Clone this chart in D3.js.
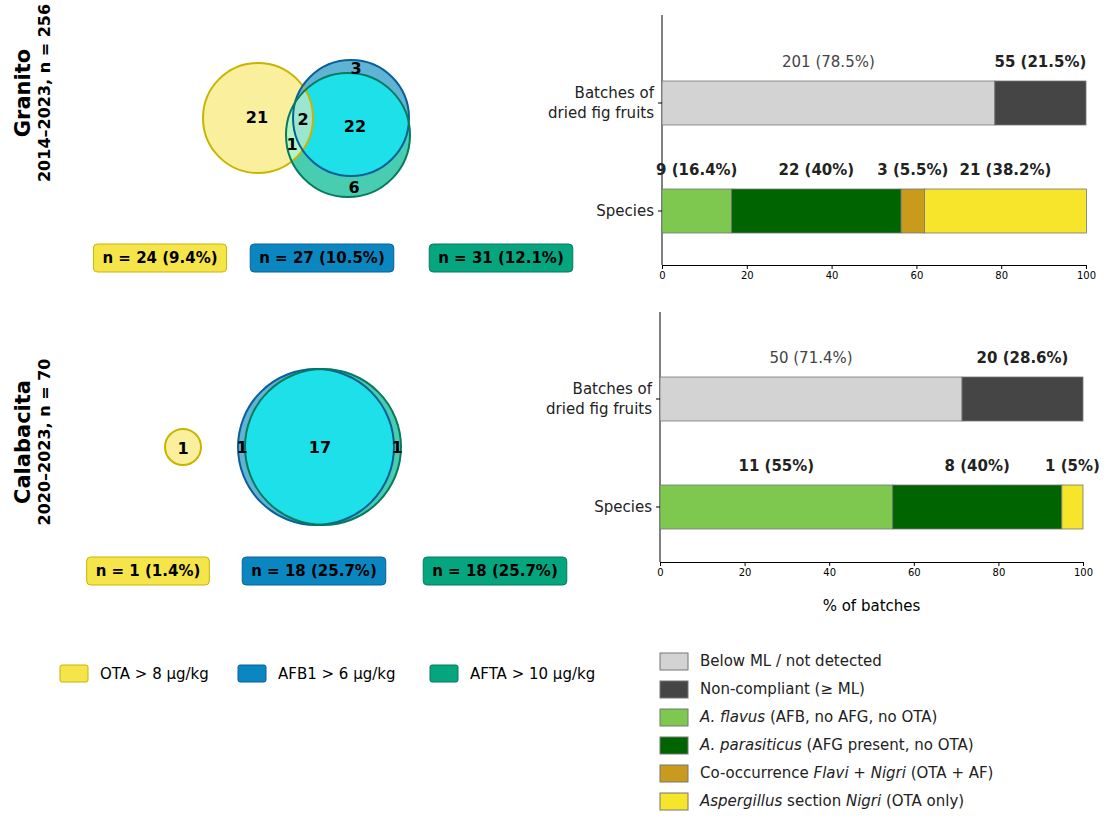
<!DOCTYPE html>
<html><head><meta charset="UTF-8">
<script src="https://d3js.org/d3.v7.min.js"></script>
<style>body{margin:0;background:#fff}text{font-family:"DejaVu Sans",sans-serif}</style>
</head><body>
<svg id="c" width="1108" height="826"></svg>
<script>
// panel data
var panels = ["Granito", "Calabacita"];
var panelSub = ["2014–2023,  n = 256", "2020–2023,  n = 70"];
var batchVals = [[78.5, 21.5], [71.4, 28.6]];
var batchLabels = [["201 (78.5%)", "55 (21.5%)"], ["50 (71.4%)", "20 (28.6%)"]];
var speciesVals = [[16.4, 40, 5.5, 38.2], [55, 40, 0, 5]];
var speciesLabels = [["9 (16.4%)", "22 (40%)", "3 (5.5%)", "21 (38.2%)"], ["11 (55%)", "8 (40%)", "", "1 (5%)"]];
var rowNames = ["Batches of\ndried fig fruits", "Species"];
var xTicks = [0, 20, 40, 60, 80, 100];
var batchColors = ["#d3d3d3", "#454545"];
var speciesColors = ["#7ec850", "#006400", "#c89b1c", "#f6e52a"];
var vennCounts = [
  [{t:"21",x:257,y:117},{t:"2",x:303,y:119},{t:"1",x:292,y:144},{t:"22",x:355,y:126},{t:"3",x:356,y:68},{t:"6",x:354,y:187}],
  [{t:"1",x:183,y:448},{t:"1",x:242,y:447},{t:"17",x:320,y:447},{t:"1",x:397,y:447}]
];
var setBoxes = [["n = 24 (9.4%)", "n = 27 (10.5%)", "n = 31 (12.1%)"], ["n = 1 (1.4%)", "n = 18 (25.7%)", "n = 18 (25.7%)"]];
var setColors = ["#f6e54a", "#0a86c0", "#05a57f"];
var setStroke = ["#c9b400", "#0a5f99", "#067a5c"];
var vennLegend = ["OTA > 8 µg/kg", "AFB1 > 6 µg/kg", "AFTA > 10 µg/kg"];
var barLegend = [["Below ML / not detected"], ["Non-compliant (≥ ML)"], ["A. flavus", " (AFB, no AFG, no OTA)"], ["A. parasiticus", " (AFG present, no OTA)"], ["Co-occurrence ", "Flavi", " + ", "Nigri", " (OTA + AF)"], ["Aspergillus", " section ", "Nigri", " (OTA only)"]];
var barLegendItalic = [[false], [false], [true, false], [true, false], [false, true, false, true, false], [true, false, true, false]];

// circle geometry for each panel [yellow, blue, green]
var circles = [
  [{cx:258,cy:118,r:55},{cx:351,cy:118,r:58},{cx:348,cy:135,r:62}],
  [{cx:183,cy:447,r:18},{cx:316,cy:447,r:78},{cx:323,cy:447,r:78}]
];

var svg = d3.select("#c");
var defs = svg.append("defs");

circles.forEach(function (cs, p) {
  var g = svg.append("g");
  cs.forEach(function (c, i) {
    defs.append("clipPath").attr("id", "cp" + p + i).append("circle").attr("cx", c.cx).attr("cy", c.cy).attr("r", c.r);
  });
  var fills = ["#f9ef9c", "#5fb4d6", "#48cdb0"];
  cs.forEach(function (c, i) {
    g.append("circle").attr("cx", c.cx).attr("cy", c.cy).attr("r", c.r).attr("fill", fills[i]);
  });
  // blue ∩ green
  g.append("g").attr("clip-path", "url(#cp" + p + "1)").append("circle")
    .attr("cx", cs[2].cx).attr("cy", cs[2].cy).attr("r", cs[2].r).attr("fill", "#1ee0e8");
  // yellow ∩ green
  g.append("g").attr("clip-path", "url(#cp" + p + "2)").append("circle")
    .attr("cx", cs[0].cx).attr("cy", cs[0].cy).attr("r", cs[0].r).attr("fill", "#b6f4c2");
  // yellow ∩ blue ∩ green
  g.append("g").attr("clip-path", "url(#cp" + p + "2)").append("g").attr("clip-path", "url(#cp" + p + "1)")
    .append("circle").attr("cx", cs[0].cx).attr("cy", cs[0].cy).attr("r", cs[0].r).attr("fill", "#9ae6cf");
  cs.forEach(function (c, i) {
    g.append("circle").attr("cx", c.cx).attr("cy", c.cy).attr("r", c.r).attr("fill", "none")
      .attr("stroke", setStroke[i]).attr("stroke-width", 2);
  });
  vennCounts[p].forEach(function (d) {
    g.append("text").attr("x", d.x).attr("y", d.y).attr("text-anchor", "middle").attr("dominant-baseline", "central")
      .attr("font-size", 16).attr("font-weight", "bold").text(d.t);
  });
  // set boxes
  var by = p === 0 ? 258 : 571;
  var bx = p === 0 ? [160, 322, 501] : [148, 314, 495];
  setBoxes[p].forEach(function (t, i) {
    var tx = g.append("text").attr("x", bx[i]).attr("y", by).attr("text-anchor", "middle").attr("dominant-baseline", "central")
      .attr("font-size", 15).attr("font-weight", "bold").text(t);
    var w = tx.node().getComputedTextLength() + 18;
    g.insert("rect", "text").attr("x", bx[i] - w / 2).attr("y", by - 14).attr("width", w).attr("height", 28).attr("rx", 4)
      .attr("fill", setColors[i]).attr("stroke", setStroke[i]);
  });
  // side title
  var ty = p === 0 ? 93 : 442;
  var tg = g.append("g").attr("transform", "translate(30," + ty + ") rotate(-90)");
  tg.append("text").attr("text-anchor", "middle").attr("font-size", 21).attr("font-weight", "bold").text(panels[p]);
  tg.append("text").attr("y", 20).attr("text-anchor", "middle").attr("font-size", 16).attr("font-weight", "bold").text(panelSub[p]);
});

// bar panels
var bp = [{x0:662, x1:1086, top:15, axis:265, rows:[103, 211]}, {x0:660, x1:1083, top:312, axis:562, rows:[399, 507]}];
bp.forEach(function (b, p) {
  var x = d3.scaleLinear().domain([0, 100]).range([b.x0, b.x1]);
  var g = svg.append("g");
  g.append("line").attr("x1", b.x0).attr("x2", b.x0).attr("y1", b.top).attr("y2", b.axis).attr("stroke", "#000");
  g.append("g").attr("transform", "translate(0," + b.axis + ")")
    .call(d3.axisBottom(x).tickValues(xTicks).tickSize(4).tickSizeOuter(0))
    .call(function (a) { a.selectAll("text").attr("font-size", 10).attr("font-family", "DejaVu Sans"); });
  var h = 44;
  [batchVals[p], speciesVals[p]].forEach(function (vals, r) {
    var cols = r === 0 ? batchColors : speciesColors;
    var labs = r === 0 ? batchLabels[p] : speciesLabels[p];
    var cy = b.rows[r], acc = 0;
    vals.forEach(function (v, i) {
      if (v > 0) {
        g.append("rect").attr("x", x(acc)).attr("y", cy - h / 2).attr("width", x(acc + v) - x(acc)).attr("height", h)
          .attr("fill", cols[i]).attr("stroke", "#777").attr("stroke-width", 0.8);
      }
      if (labs[i]) {
        var bold = !(r === 0 && i === 0);
        g.append("text").attr("x", x(acc + v / 2)).attr("y", cy - h / 2 - 14).attr("text-anchor", "middle")
          .attr("font-size", 15).attr("font-weight", bold ? "bold" : "normal").attr("fill", bold ? "#222" : "#444").text(labs[i]);
      }
      acc += v;
    });
    g.append("line").attr("x1", b.x0 - 4).attr("x2", b.x0).attr("y1", cy).attr("y2", cy).attr("stroke", "#000");
    var lines = rowNames[r].split("\n");
    lines.forEach(function (l, k) {
      g.append("text").attr("x", b.x0 - 8).attr("y", cy + (k - (lines.length - 1) / 2) * 20).attr("dominant-baseline", "central")
        .attr("text-anchor", "end").attr("font-size", 15).attr("fill", "#222").text(l);
    });
  });
  if (p === 1) {
    g.append("text").attr("x", (b.x0 + b.x1) / 2).attr("y", 611).attr("text-anchor", "middle").attr("font-size", 15).text("% of batches");
  }
});

// venn legend
var lx = [60, 238, 430];
vennLegend.forEach(function (t, i) {
  svg.append("rect").attr("x", lx[i]).attr("y", 665).attr("width", 28).attr("height", 17).attr("rx", 2)
    .attr("fill", setColors[i]).attr("stroke", setStroke[i]);
  svg.append("text").attr("x", lx[i] + 40).attr("y", 674).attr("dominant-baseline", "central").attr("font-size", 15).text(t);
});

// bar legend
var legCols = batchColors.concat(speciesColors);
barLegend.forEach(function (parts, i) {
  var y = 661 + i * 28;
  svg.append("rect").attr("x", 660).attr("y", y - 8).attr("width", 28).attr("height", 17)
    .attr("fill", legCols[i]).attr("stroke", "#777");
  var t = svg.append("text").attr("x", 700).attr("y", y).attr("dominant-baseline", "central").attr("font-size", 15).attr("fill", "#222");
  parts.forEach(function (s, k) {
    t.append("tspan").attr("font-style", barLegendItalic[i][k] ? "italic" : "normal").text(s);
  });
});
</script>
</body></html>
